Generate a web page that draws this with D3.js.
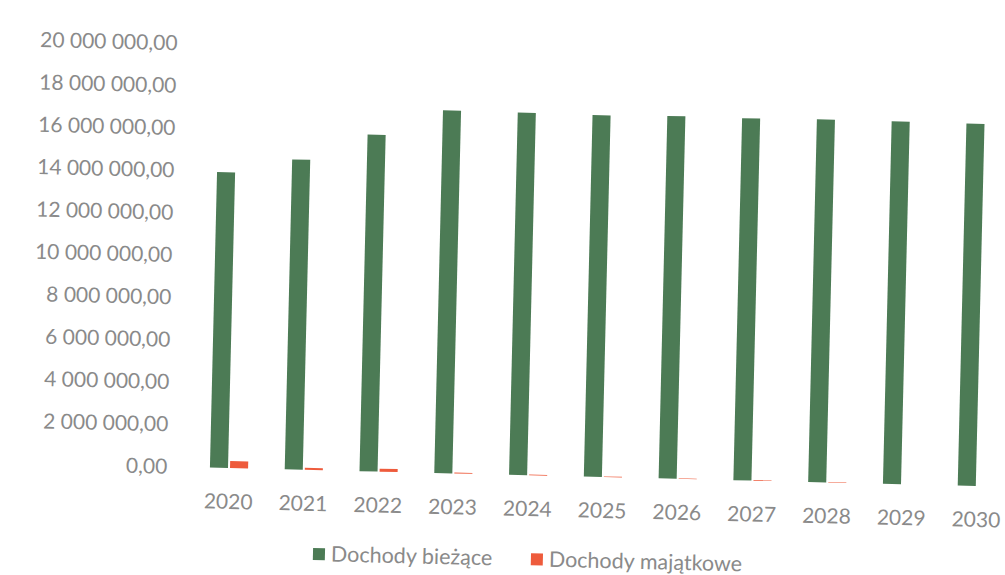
<!DOCTYPE html>
<html>
<head>
<meta charset="utf-8">
<script src="https://cdn.jsdelivr.net/npm/d3@7"></script>
<style>
  html, body { margin: 0; padding: 0; background: #ffffff; }
  svg { display: block; }
  text { font-family: Lato, "Open Sans", sans-serif; fill: #8a8a8a; }
</style>
</head>
<body>
<svg id="chart" width="1005" height="575"></svg>
<script>
// ---- data ----
const years = ["2020","2021","2022","2023","2024","2025","2026","2027","2028","2029","2030"];
const seriesNames = ["Dochody bieżące", "Dochody majątkowe"];
const dochodyBiezace = [13960000, 14640000, 15900000, 17130000, 17110000, 17080000, 17120000, 17100000, 17130000, 17120000, 17100000];
const dochodyMajatkowe = [330000, 100000, 140000, 40000, 35000, 30000, 30000, 30000, 25000, 0, 0];
const yTicks = [0, 2000000, 4000000, 6000000, 8000000, 10000000, 12000000, 14000000, 16000000, 18000000, 20000000];
const colors = ["#4c7b55", "#ee5b3c"];

// ---- layout ----
const svg = d3.select("#chart");
const pivotX = 229, pivotY = 468;       // scan is slightly rotated
const angle = 1.38;
const g = svg.append("g").attr("transform", `rotate(${angle},${pivotX},${pivotY})`);

const step = 74.8;
const pad = 0.49;
const r0 = pivotX - step * (pad + (1 - pad) / 2);
const x = d3.scaleBand().domain(years).range([r0, r0 + step * (years.length - pad + 2 * pad)])
  .paddingInner(pad).paddingOuter(pad);
const xSub = d3.scaleBand().domain([0, 1]).range([0, x.bandwidth()]).paddingInner(0.1);
const y = d3.scaleLinear().domain([0, 20000000]).range([468, 44.5]);

const locale = d3.formatLocale({ decimal: ",", thousands: " ", grouping: [3], currency: ["", ""] });
const fmt = locale.format(",.2f");

// y axis
const yAxis = g.append("g").attr("transform", `translate(${r0 - 4},0)`)
  .call(d3.axisLeft(y).tickValues(yTicks).tickFormat(fmt).tickSize(0).tickPadding(2));
yAxis.select(".domain").remove();
yAxis.selectAll("text").style("font-size", "21px").style("font-family", "Lato, sans-serif").attr("fill", "#8a8a8a");

// x axis
const xAxis = g.append("g").attr("transform", `translate(0,${y(0)})`)
  .call(d3.axisBottom(x).tickSize(0).tickPadding(26));
xAxis.select(".domain").remove();
xAxis.selectAll("text").style("font-size", "21px").style("font-family", "Lato, sans-serif").attr("fill", "#8a8a8a");

// bars
const seriesData = [dochodyBiezace, dochodyMajatkowe];
seriesData.forEach((vals, si) => {
  g.append("g").selectAll("rect").data(vals).join("rect")
    .attr("x", (d, i) => x(years[i]) + xSub(si))
    .attr("width", xSub.bandwidth())
    .attr("y", d => y(d))
    .attr("height", d => y(0) - y(d))
    .attr("fill", colors[si]);
});

// legend
const legendItems = [{ x: 315, name: seriesNames[0], c: colors[0] }, { x: 533, name: seriesNames[1], c: colors[1] }];
const lg = g.append("g");
legendItems.forEach(it => {
  lg.append("rect").attr("x", it.x).attr("y", 546).attr("width", 12).attr("height", 12).attr("fill", it.c);
  lg.append("text").attr("x", it.x + 18).attr("y", 559).style("font-size", "21.5px").text(it.name);
});
</script>
</body>
</html>
